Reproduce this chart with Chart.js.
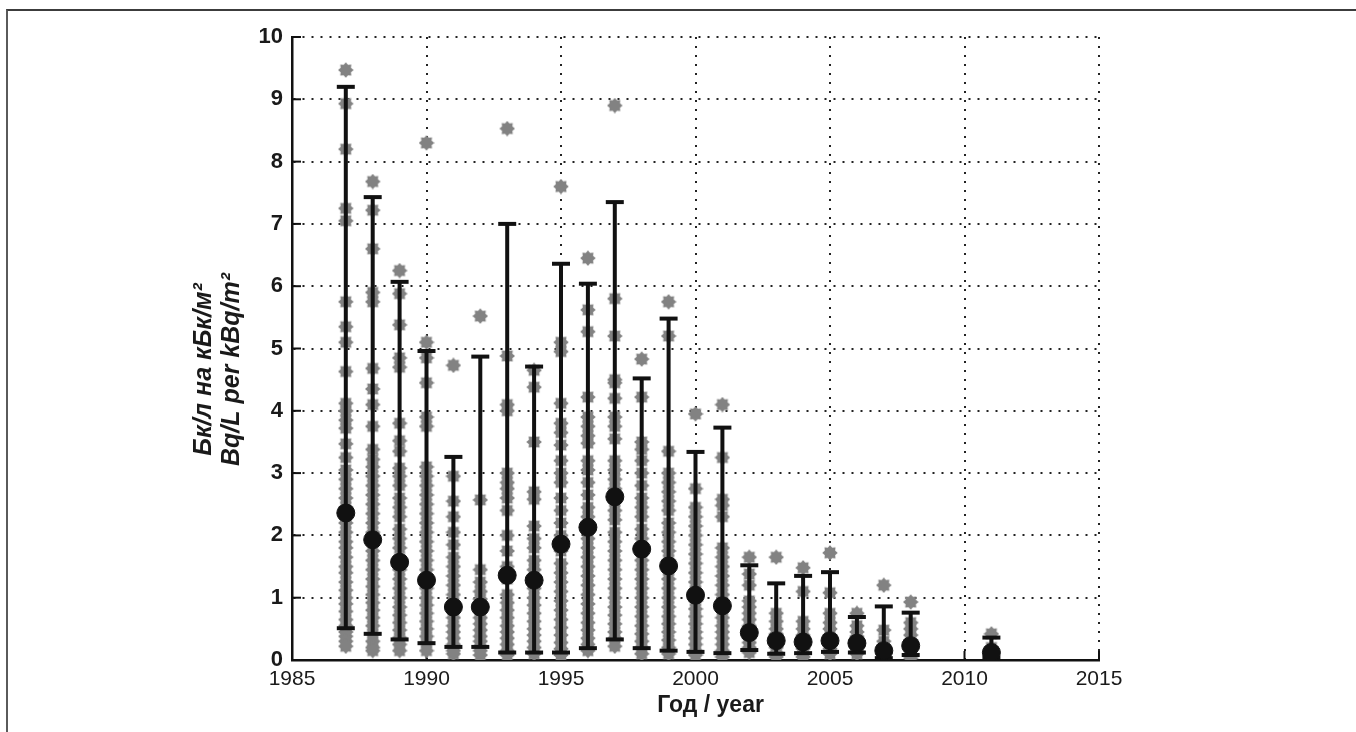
<!DOCTYPE html>
<html>
<head>
<meta charset="utf-8">
<style>
  html, body { margin: 0; padding: 0; background: #fff; }
  #wrap { position: relative; width: 1356px; height: 732px; overflow: hidden; }
  #frame { position: absolute; left: 6px; top: 9px; right: -4px; bottom: -4px; border-top: 2px solid #3c3c3c; border-left: 2px solid #5a5a5a; }
  canvas { position: absolute; left: 0; top: 0; }
</style>
</head>
<body>
<div id="wrap">
  <div id="frame"></div>
  <canvas id="myChart" width="1356" height="732"></canvas>
</div>

<script src="https://cdn.jsdelivr.net/npm/chart.js"></script>

<script>
  // years with measurements
  const years = [1987, 1988, 1989, 1990, 1991, 1992, 1993, 1994, 1995, 1996, 1997, 1998,
                 1999, 2000, 2001, 2002, 2003, 2004, 2005, 2006, 2007, 2008, 2011];
  // error bar ends and means (Bq/L per kBq/m2)
  const maxVals  = [9.2, 7.43, 6.07, 4.96, 3.26, 4.87, 7.0, 4.71, 6.36, 6.04, 7.35, 4.52,
                    5.48, 3.34, 3.73, 1.52, 1.23, 1.35, 1.41, 0.69, 0.86, 0.76, 0.36];
  const minVals  = [0.51, 0.42, 0.33, 0.27, 0.21, 0.21, 0.12, 0.12, 0.12, 0.19, 0.33, 0.19,
                    0.15, 0.13, 0.11, 0.16, 0.1, 0.11, 0.13, 0.12, 0.03, 0.08, 0.04];
  const meanVals = [2.36, 1.93, 1.57, 1.28, 0.85, 0.85, 1.36, 1.28, 1.86, 2.13, 2.62, 1.78,
                    1.51, 1.04, 0.87, 0.44, 0.31, 0.29, 0.31, 0.27, 0.15, 0.23, 0.12];
  // individual samples, same order as years
  const samples = [
    [9.47, 8.93, 8.2, 7.25, 7.05, 5.75, 5.35, 5.1, 4.63, 4.12, 4.0, 3.85, 3.72, 3.47, 3.25, 3.05, 2.9, 2.75, 2.6, 2.45, 2.3, 2.2, 2.05, 1.9, 1.8, 1.65, 1.5, 1.4, 1.25, 1.12, 1.0, 0.9, 0.78, 0.65, 0.55, 0.45, 0.38, 0.3, 0.22],
    [7.68, 7.22, 6.6, 5.9, 5.75, 4.68, 4.35, 4.1, 3.75, 3.38, 3.22, 3.1, 2.95, 2.8, 2.65, 2.5, 2.35, 2.2, 2.05, 1.9, 1.75, 1.6, 1.45, 1.3, 1.18, 1.05, 0.92, 0.8, 0.68, 0.55, 0.42, 0.3, 0.2, 0.15],
    [6.25, 5.88, 5.38, 4.85, 4.7, 3.8, 3.52, 3.35, 3.08, 2.95, 2.8, 2.6, 2.45, 2.3, 2.1, 1.95, 1.8, 1.62, 1.45, 1.3, 1.15, 1.0, 0.85, 0.72, 0.6, 0.48, 0.36, 0.25, 0.15],
    [8.3, 5.1, 4.85, 4.45, 3.9, 3.75, 3.1, 2.95, 2.8, 2.65, 2.5, 2.35, 2.2, 2.05, 1.9, 1.75, 1.6, 1.45, 1.3, 1.15, 1.0, 0.88, 0.75, 0.62, 0.5, 0.38, 0.27, 0.15],
    [4.73, 2.95, 2.55, 2.3, 2.05, 1.85, 1.65, 1.5, 1.35, 1.2, 1.05, 0.92, 0.8, 0.68, 0.55, 0.45, 0.35, 0.25, 0.15, 0.1],
    [5.52, 2.57, 1.45, 1.25, 1.1, 0.98, 0.88, 0.78, 0.68, 0.58, 0.48, 0.38, 0.3, 0.22, 0.15, 0.08],
    [8.53, 4.88, 4.1, 4.0, 3.0, 2.85, 2.75, 2.6, 2.4, 2.0, 1.75, 1.5, 1.3, 1.05, 0.92, 0.8, 0.68, 0.55, 0.45, 0.35, 0.25, 0.15, 0.08],
    [4.65, 4.38, 3.5, 2.7, 2.58, 2.15, 1.95, 1.8, 1.6, 1.45, 1.3, 1.15, 1.0, 0.88, 0.75, 0.62, 0.5, 0.4, 0.3, 0.2, 0.1],
    [7.6, 5.1, 4.95, 4.12, 3.8, 3.65, 3.45, 3.2, 3.0, 2.85, 2.6, 2.4, 2.2, 2.0, 1.75, 1.55, 1.4, 1.25, 1.1, 0.95, 0.8, 0.65, 0.52, 0.4, 0.28, 0.18, 0.08],
    [6.45, 5.62, 5.27, 4.22, 3.9, 3.75, 3.6, 3.48, 3.2, 3.05, 2.85, 2.65, 2.45, 2.3, 2.1, 1.95, 1.8, 1.65, 1.5, 1.35, 1.2, 1.05, 0.9, 0.75, 0.6, 0.48, 0.35, 0.25, 0.15],
    [8.9, 5.8, 5.2, 4.5, 4.45, 4.2, 3.9, 3.75, 3.55, 3.2, 3.05, 2.9, 2.75, 2.55, 2.4, 2.25, 2.05, 1.9, 1.75, 1.6, 1.45, 1.3, 1.15, 1.0, 0.85, 0.72, 0.58, 0.45, 0.35, 0.22],
    [4.83, 4.22, 3.5, 3.38, 3.2, 3.0, 2.8, 2.6, 2.45, 2.3, 2.1, 1.95, 1.8, 1.6, 1.45, 1.3, 1.15, 1.0, 0.85, 0.7, 0.55, 0.42, 0.3, 0.2, 0.1],
    [5.75, 5.2, 3.35, 3.0, 2.85, 2.7, 2.55, 2.4, 2.2, 2.05, 1.9, 1.75, 1.6, 1.45, 1.3, 1.15, 1.0, 0.85, 0.7, 0.58, 0.45, 0.32, 0.2, 0.1],
    [3.95, 2.75, 2.45, 2.3, 2.15, 2.0, 1.85, 1.7, 1.55, 1.4, 1.25, 1.1, 0.95, 0.82, 0.7, 0.58, 0.45, 0.35, 0.25, 0.15, 0.08],
    [4.1, 3.25, 2.58, 2.48, 2.3, 1.8, 1.65, 1.5, 1.35, 1.2, 1.05, 0.92, 0.8, 0.68, 0.55, 0.45, 0.35, 0.25, 0.15, 0.05],
    [1.65, 1.38, 1.2, 0.95, 0.85, 0.75, 0.65, 0.55, 0.45, 0.35, 0.28, 0.2, 0.12],
    [1.65, 0.75, 0.62, 0.5, 0.42, 0.35, 0.28, 0.2, 0.12, 0.05],
    [1.48, 1.1, 0.62, 0.5, 0.4, 0.32, 0.25, 0.18, 0.1, 0.05],
    [1.72, 1.08, 0.75, 0.6, 0.5, 0.4, 0.32, 0.25, 0.18, 0.1],
    [0.75, 0.55, 0.45, 0.38, 0.3, 0.22, 0.15, 0.1],
    [1.2, 0.48, 0.3, 0.2, 0.12, 0.05, 0.0],
    [0.93, 0.6, 0.5, 0.4, 0.32, 0.25, 0.18, 0.1, 0.03],
    [0.42, 0.2, 0.1]
  ];
  const xTicks = [1985, 1990, 1995, 2000, 2005, 2010, 2015];
  const yTicks = [0, 1, 2, 3, 4, 5, 6, 7, 8, 9, 10];
  const xTitle = 'Год / year';
  const yTitle = ['Бк/л на кБк/м²', 'Bq/L per kBq/m²'];

  // grey 8-pointed star marker
  const star = document.createElement('canvas');
  star.width = 16; star.height = 16;
  (function () {
    const c = star.getContext('2d');
    c.fillStyle = '#828282';
    c.beginPath();
    for (let i = 0; i < 16; i++) {
      const r = i % 2 ? 5.6 : 7.8;
      const a = i * Math.PI / 8;
      const px = 8 + r * Math.cos(a), py = 8 + r * Math.sin(a);
      i ? c.lineTo(px, py) : c.moveTo(px, py);
    }
    c.closePath();
    c.fill();
  })();

  let pts = [];
  years.forEach((yr, i) => samples[i].forEach(v => pts.push({x: yr, y: v})));

  let bars = [];
  years.forEach((yr, i) => {
    bars.push({x: yr, y: minVals[i]});
    bars.push({x: yr, y: maxVals[i]});
    bars.push({x: yr, y: null});
  });

  let means = years.map((yr, i) => ({x: yr, y: meanVals[i]}));

  const extras = {
    id: 'extras',
    beforeDatasetsDraw(chart) {
      const {ctx, chartArea: a, scales: {x, y}} = chart;
      ctx.save();
      ctx.strokeStyle = '#111';
      ctx.lineWidth = 2;
      yTicks.forEach(v => {
        const py = y.getPixelForValue(v);
        ctx.beginPath(); ctx.moveTo(a.left, py); ctx.lineTo(a.left + 9, py); ctx.stroke();
      });
      xTicks.forEach(v => {
        const px = x.getPixelForValue(v);
        ctx.beginPath(); ctx.moveTo(px, a.bottom); ctx.lineTo(px, a.bottom - 9); ctx.stroke();
      });
      ctx.restore();
    },
    afterDraw(chart) {
      const {ctx, chartArea: a} = chart;
      ctx.save();
      ctx.fillStyle = '#1a1a1a';
      ctx.textAlign = 'center';
      ctx.textBaseline = 'middle';
      ctx.font = 'bold 23px "Liberation Sans", Arial, sans-serif';
      ctx.fillText(xTitle, (a.left + a.right) / 2 + 15, a.bottom + 46);
      ctx.font = 'italic bold 25px "Liberation Sans", Arial, sans-serif';
      const cy = (a.top + a.bottom) / 2 + 21;
      [a.left - 88, a.left - 60].forEach((cx, k) => {
        ctx.save();
        ctx.translate(cx, cy);
        ctx.rotate(-Math.PI / 2);
        ctx.fillText(yTitle[k], 0, 0);
        ctx.restore();
      });
      ctx.restore();
    }
  };

  const ctx = document.getElementById('myChart');
  new Chart(ctx, {
    type: 'scatter',
    data: {
      datasets: [
        {
          label: 'samples',
          data: pts,
          pointStyle: star,
          pointRadius: 8,
          order: 3
        },
        {
          type: 'line',
          label: 'range',
          data: bars,
          borderColor: '#111',
          borderWidth: 4,
          pointStyle: 'line',
          pointRadius: 9,
          pointBorderWidth: 4,
          pointBorderColor: '#111',
          spanGaps: false,
          order: 2
        },
        {
          label: 'mean',
          data: means,
          pointStyle: 'circle',
          pointRadius: 9,
          backgroundColor: '#111',
          borderColor: '#111',
          order: 1
        }
      ]
    },
    options: {
      responsive: false,
      animation: false,
      layout: { padding: { left: 240, right: 257, top: 37, bottom: 42 } },
      plugins: { legend: { display: false }, tooltip: { enabled: false } },
      scales: {
        x: {
          type: 'linear',
          min: 1985, max: 2015,
          afterBuildTicks: s => { s.ticks = xTicks.map(v => ({value: v})); },
          afterFit: s => { s.height = 30; },
          border: { display: true, color: '#111', width: 2.5, dash: [2, 7] },
          grid: { color: '#222', lineWidth: 2, drawTicks: false },
          ticks: {
            padding: 7,
            color: '#1a1a1a',
            font: { family: '"Liberation Sans", Arial, sans-serif', size: 21 },
            callback: v => String(v)
          }
        },
        y: {
          min: 0, max: 10,
          afterBuildTicks: s => { s.ticks = yTicks.map(v => ({value: v})); },
          afterFit: s => { s.width = 52; },
          border: { display: true, color: '#111', width: 2.5, dash: [2, 7] },
          grid: { color: '#222', lineWidth: 2, drawTicks: false },
          ticks: {
            padding: 9,
            color: '#1a1a1a',
            font: { family: '"Liberation Sans", Arial, sans-serif', size: 22, weight: 'bold' },
            callback: v => String(v)
          }
        }
      }
    },
    plugins: [extras]
  });
</script>
</body>
</html>
